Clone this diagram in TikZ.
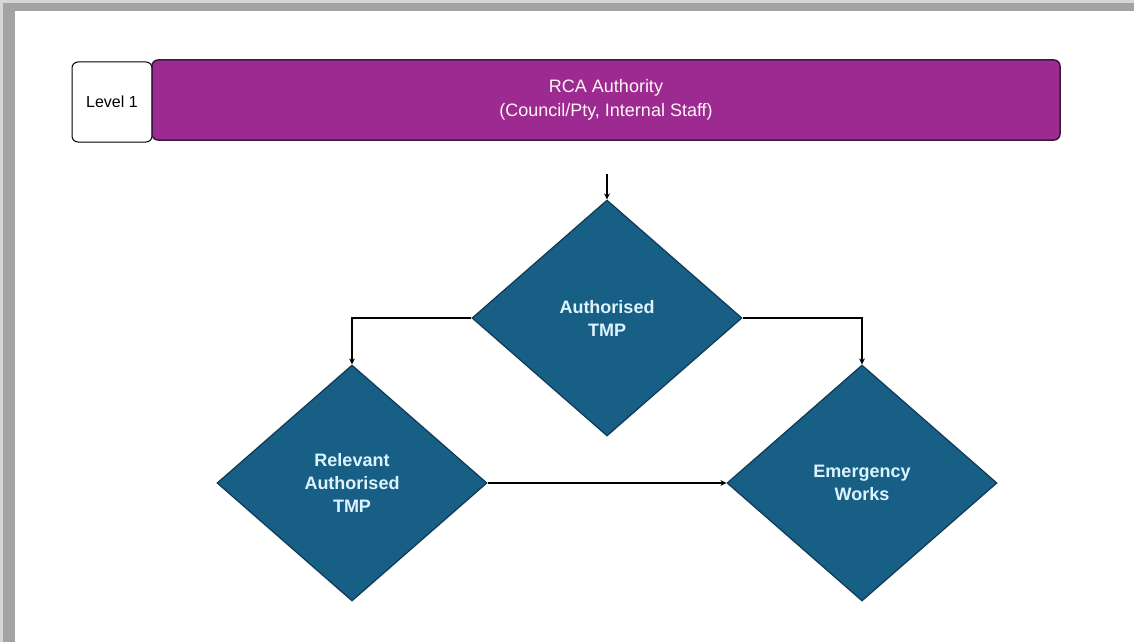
\documentclass[tikz,border=0pt]{standalone}
\usepackage{fontspec}
\setmainfont{Liberation Sans}
\usetikzlibrary{shapes.geometric,arrows.meta}
\definecolor{framegray}{HTML}{A3A3A3}
\definecolor{headpurple}{HTML}{9C2A91}
\definecolor{headedge}{HTML}{3A1A3A}
\definecolor{decfill}{HTML}{185F86}
\definecolor{decedge}{HTML}{0E3A55}
\definecolor{dectext}{HTML}{DDF4FF}
\tikzset{
  decision/.style={diamond, draw=decedge, line width=1.2pt, fill=decfill,
    minimum width=270pt, minimum height=236pt, inner sep=0pt, aspect=1.14,
    text=dectext, align=center, font=\fontsize{18}{23}\selectfont\bfseries},
  flow/.style={draw=black, line width=1.6pt, -{Stealth[length=6pt,width=6pt]}},
  levelbox/.style={draw=black, line width=1pt, fill=white, rounded corners=6pt,
    minimum width=80pt, minimum height=80pt, inner sep=0pt,
    font=\fontsize{16}{18}\selectfont},
  headbar/.style={draw=headedge, line width=1.5pt, fill=headpurple, rounded corners=6pt,
    minimum width=908pt, minimum height=80pt, inner sep=0pt, text=white!85!pink,
    align=center, font=\fontsize{18}{24}\selectfont}
}
\begin{document}
\begin{tikzpicture}[x=1pt,y=-1pt]
  \useasboundingbox (0,0) rectangle (1134,642);
  % page with its grey drop edge on the left and top
  \fill[white] (0,0) rectangle (1134,642);
  \fill[framegray!45] (0,0) rectangle (1134,12);
  \fill[framegray!45] (0,0) rectangle (16,642);
  \fill[framegray] (3,3) rectangle (1134,11);
  \fill[framegray] (3,3) rectangle (15,642);
  \fill[white] (15,11) rectangle (1134,642);

  % level header
  \node[levelbox] (lvl) at (112,102) {Level 1};
  \node[headbar] (head) at (606,100) {RCA Authority\\(Council/Pty, Internal Staff)};

  % decisions
  \node[decision] (auth) at (607,318) {Authorised\\TMP};
  \node[decision] (rel) at (352,483) {Relevant\\Authorised\\TMP};
  \node[decision] (emg) at (862,483) {Emergency\\Works};

  % connectors
  \coordinate (entry) at (607,174);
  \draw[flow] (entry) -- (auth.north);
  \draw[flow] (auth.west) -| (rel.north);
  \draw[flow] (auth.east) -| (emg.north);
  \draw[flow] (rel.east) -- (emg.west);
\end{tikzpicture}
\end{document}
